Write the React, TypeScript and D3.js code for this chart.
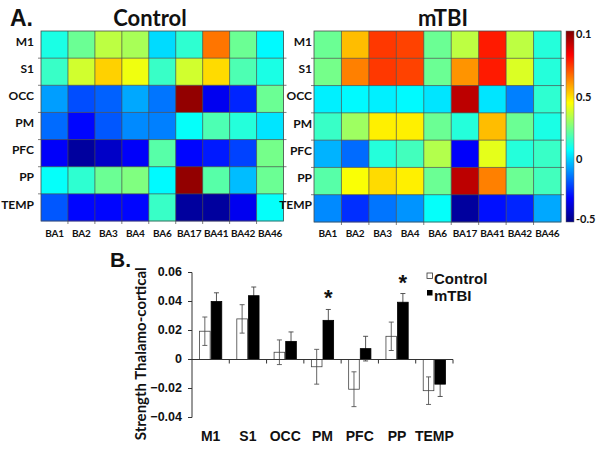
import React from "react";
import * as d3 from "d3";

const rows = ["M1", "S1", "OCC", "PM", "PFC", "PP", "TEMP"];
const cols = ["BA1", "BA2", "BA3", "BA4", "BA6", "BA17", "BA41", "BA42", "BA46"];

// Cell values as positions on the colour bar (0 = bottom, 1 = top)
const controlMatrix = [
  [0.40, 0.48, 0.56, 0.54, 0.34, 0.42, 0.76, 0.48, 0.37],
  [0.43, 0.58, 0.67, 0.61, 0.43, 0.58, 0.66, 0.45, 0.40],
  [0.28, 0.20, 0.22, 0.29, 0.24, 0.98, 0.11, 0.16, 0.48],
  [0.23, 0.13, 0.21, 0.26, 0.25, 0.38, 0.45, 0.41, 0.35],
  [0.12, 0.03, 0.07, 0.12, 0.46, 0.13, 0.15, 0.19, 0.49],
  [0.38, 0.42, 0.48, 0.50, 0.37, 0.98, 0.46, 0.31, 0.48],
  [0.21, 0.13, 0.13, 0.13, 0.43, 0.03, 0.03, 0.11, 0.38],
];
const mtbiMatrix = [
  [0.48, 0.69, 0.82, 0.81, 0.48, 0.56, 0.85, 0.56, 0.41],
  [0.49, 0.75, 0.82, 0.81, 0.48, 0.73, 0.85, 0.59, 0.41],
  [0.36, 0.37, 0.36, 0.37, 0.35, 0.94, 0.35, 0.25, 0.42],
  [0.43, 0.53, 0.64, 0.64, 0.48, 0.41, 0.69, 0.48, 0.40],
  [0.30, 0.23, 0.41, 0.44, 0.55, 0.12, 0.60, 0.41, 0.43],
  [0.46, 0.62, 0.66, 0.64, 0.48, 0.94, 0.75, 0.48, 0.44],
  [0.26, 0.17, 0.24, 0.27, 0.38, 0.03, 0.14, 0.16, 0.29],
];
const colorbarLabels = ["0.1", "0.5", "0", "-0.5"];
const colorbarLabelPos = [0.98, 0.65, 0.325, 0.01];

// Bar chart data
const regions = ["M1", "S1", "OCC", "PM", "PFC", "PP", "TEMP"];
const controlMean = [0.0195, 0.028, 0.005, -0.005, -0.0205, 0.016, -0.0215];
const controlErr = [0.0098, 0.0098, 0.0085, 0.012, 0.012, 0.0098, 0.0095];
const mtbiMean = [0.040, 0.044, 0.0125, 0.027, 0.0075, 0.0395, -0.017];
const mtbiErr = [0.006, 0.006, 0.0065, 0.0075, 0.0085, 0.006, 0.0085];
const significant = [false, false, false, true, false, true, false];
const yTicks = [0.06, 0.04, 0.02, 0, -0.02, -0.04];
const seriesNames = ["Control", "mTBI"];

const jet = d3
  .scaleLinear<string>()
  .domain([0, 0.125, 0.375, 0.625, 0.875, 1])
  .range(["#00007f", "#0000ff", "#00ffff", "#ffff00", "#ff0000", "#7f0000"])
  .clamp(true);

const HF = "Lato, 'Open Sans', sans-serif";
const AF = "'Liberation Sans', Arial, sans-serif";

function Heatmap({ x0, x1, y0, y1, data, labelRight }: any) {
  const xs = d3.scaleBand().domain(cols).range([x0, x1]);
  const ys = d3.scaleBand().domain(rows).range([y0, y1]);
  const bw = xs.bandwidth();
  const bh = ys.bandwidth();
  return (
    <g>
      {rows.map((r, i) =>
        cols.map((c, j) => (
          <rect
            key={r + c}
            x={xs(c)}
            y={ys(r)}
            width={bw + 0.3}
            height={bh + 0.3}
            fill={jet(data[i][j])}
          />
        ))
      )}
      {cols.slice(1).map((c) => (
        <line key={"v" + c} x1={xs(c)} x2={xs(c)} y1={y0} y2={y1 + 3} stroke="#4a4a4a" strokeWidth={0.7} />
      ))}
      {rows.slice(1).map((r) => (
        <line key={"h" + r} x1={x0 - 3} x2={x1 + 3} y1={ys(r)} y2={ys(r)} stroke="#4a4a4a" strokeWidth={0.7} />
      ))}
      <rect x={x0} y={y0} width={x1 - x0} height={y1 - y0} fill="none" stroke="#4a4a4a" strokeWidth={0.8} />
      {rows.map((r) => (
        <text
          key={"rl" + r}
          x={labelRight}
          y={(ys(r) as number) + bh / 2 - 2}
          textAnchor="end"
          dominantBaseline="middle"
          fontFamily={HF}
          fontWeight="bold"
          fontSize={12}
          fill="#111"
        >
          {r}
        </text>
      ))}
      {cols.map((c) => (
        <text
          key={"cl" + c}
          x={(xs(c) as number) + bw / 2}
          y={237}
          textAnchor="middle"
          fontFamily={HF}
          fontWeight="bold"
          fontSize={10}
          letterSpacing={-0.2}
          fill="#111"
        >
          {c}
        </text>
      ))}
    </g>
  );
}

export default function App() {
  const W = 600;
  const H = 453;

  // colorbar
  const cbX = 566;
  const cbW = 8;
  const cbTop = 31;
  const cbBot = 222;
  const cbScale = d3.scaleLinear().domain([0, 1]).range([cbBot, cbTop]);
  const stops = d3.range(0, 1.0001, 0.125);

  // bar chart
  const bx = d3.scaleBand().domain(regions).range([192, 453]);
  const by = d3.scaleLinear().domain([-0.04, 0.06]).range([417.5, 272.5]);
  const bandW = bx.bandwidth();
  const barW = bandW * 0.285;

  const bars: any[] = [];
  regions.forEach((r, i) => {
    const c = (bx(r) as number) + bandW / 2;
    const series = [
      { m: controlMean[i], e: controlErr[i], x: c - barW - 0.5, fill: "#fff", stroke: "#444", errC: "#555" },
      { m: mtbiMean[i], e: mtbiErr[i], x: c + 0.5, fill: "#000", stroke: "#000", errC: "#444" },
    ];
    series.forEach((s, k) => {
      const yTop = by(Math.max(0, s.m));
      const yB = by(Math.min(0, s.m));
      const cx = s.x + barW / 2;
      bars.push(
        <g key={r + k}>
          <line x1={cx} x2={cx} y1={by(s.m + s.e)} y2={by(s.m - s.e)} stroke={s.errC} strokeWidth={0.9} />
          <line x1={cx - 2.5} x2={cx + 2.5} y1={by(s.m + s.e)} y2={by(s.m + s.e)} stroke={s.errC} strokeWidth={0.9} />
          <line x1={cx - 2.5} x2={cx + 2.5} y1={by(s.m - s.e)} y2={by(s.m - s.e)} stroke={s.errC} strokeWidth={0.9} />
          <rect
            x={s.x}
            y={yTop}
            width={barW}
            height={Math.max(0.5, yB - yTop)}
            fill={s.fill}
            stroke={s.stroke}
            strokeWidth={0.8}
            fillOpacity={k === 0 ? 0 : 1}
          />
        </g>
      );
    });
    if (significant[i]) {
      bars.push(
        <text
          key={"ast" + r}
          x={c + 0.5 + barW / 2}
          y={by(mtbiMean[i] + mtbiErr[i]) - 4}
          textAnchor="middle"
          fontFamily={AF}
          fontWeight="bold"
          fontSize={22}
          fill="#111"
        >
          *
        </text>
      );
    }
  });

  return (
    <svg width={W} height={H} style={{ position: "absolute", left: 0, top: 0, background: "#fff" }}>
      <rect width={W} height={H} fill="#fff" />
      <defs>
        <linearGradient id="jetGrad" x1="0" y1="1" x2="0" y2="0">
          {stops.map((t) => (
            <stop key={t} offset={t} stopColor={jet(t)} />
          ))}
        </linearGradient>
      </defs>

      {/* Panel A */}
      <text x={10} y={26} fontFamily={AF} fontWeight="bold" fontSize={23} fill="#111">
        A.
      </text>
      <text x={150} y={26} textAnchor="middle" fontFamily={HF} fontWeight="bold" fontSize={22} fill="#111">
        Control
      </text>
      <text x={443} y={26} textAnchor="middle" fontFamily={HF} fontWeight="bold" fontSize={22} fill="#111">
        mTBI
      </text>

      <Heatmap x0={41} x1={283.5} y0={31} y1={221} data={controlMatrix} labelRight={34} />
      <Heatmap x0={314} x1={561} y0={31} y1={222} data={mtbiMatrix} labelRight={312} />

      <rect x={cbX} y={cbTop} width={cbW} height={cbBot - cbTop} fill="url(#jetGrad)" stroke="#666" strokeWidth={0.5} />
      {colorbarLabels.map((l, i) => (
        <text
          key={"cb" + l}
          x={cbX + cbW + 2}
          y={cbScale(colorbarLabelPos[i])}
          dominantBaseline="middle"
          fontFamily={HF}
          fontWeight="bold"
          fontSize={11}
          fill="#111"
        >
          {l}
        </text>
      ))}

      {/* Panel B */}
      <text x={110} y={267} fontFamily={AF} fontWeight="bold" fontSize={21} fill="#111">
        B.
      </text>
      <text
        transform={`translate(146, ${by(0.004)}) rotate(-90)`}
        textAnchor="middle"
        fontFamily={HF}
        fontWeight="bold"
        fontSize={15}
        fill="#111"
      >
        Strength Thalamo-cortical
      </text>

      {/* y axis */}
      <line x1={192} x2={192} y1={by(0.06)} y2={by(-0.04)} stroke="#333" strokeWidth={1} />
      {yTicks.map((t) => (
        <g key={"yt" + t}>
          <line x1={188} x2={192} y1={by(t)} y2={by(t)} stroke="#333" strokeWidth={1} />
          <text
            x={182}
            y={by(t)}
            textAnchor="end"
            dominantBaseline="middle"
            fontFamily={AF}
            fontWeight="bold"
            fontSize={12.5}
            fill="#111"
          >
            {t === 0 ? "0" : d3.format(".2f")(t)}
          </text>
        </g>
      ))}

      {bars}

      {/* x axis at zero */}
      <line x1={192} x2={453} y1={by(0)} y2={by(0)} stroke="#333" strokeWidth={1} />
      {regions.map((r) => (
        <line
          key={"xt" + r}
          x1={(bx(r) as number) + bandW}
          x2={(bx(r) as number) + bandW}
          y1={by(0)}
          y2={by(0) + 4}
          stroke="#333"
          strokeWidth={1}
        />
      ))}
      {regions.map((r) => (
        <text
          key={"xl" + r}
          x={(bx(r) as number) + bandW / 2}
          y={441}
          textAnchor="middle"
          fontFamily={AF}
          fontWeight="bold"
          fontSize={14}
          fill="#111"
        >
          {r}
        </text>
      ))}

      {/* legend */}
      <rect x={427} y={273} width={5.5} height={5.5} fill="#fff" stroke="#333" strokeWidth={0.8} />
      <text x={434} y={284} fontFamily={AF} fontWeight="bold" fontSize={15} fill="#111">
        {seriesNames[0]}
      </text>
      <rect x={427} y={290} width={5.5} height={5.5} fill="#000" />
      <text x={434} y={301} fontFamily={AF} fontWeight="bold" fontSize={15} fill="#111">
        {seriesNames[1]}
      </text>
    </svg>
  );
}
